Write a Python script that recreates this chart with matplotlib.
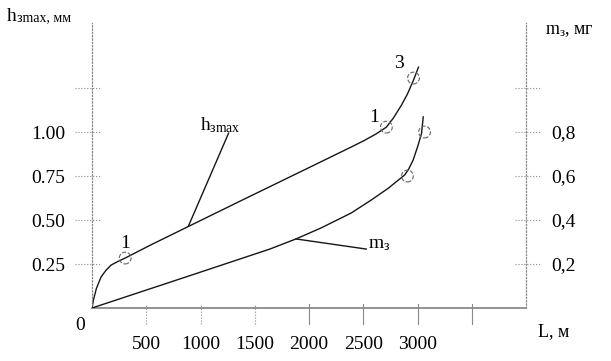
import matplotlib
matplotlib.use("Agg")
import matplotlib.pyplot as plt

plt.rcParams['font.family'] = ['Liberation Serif', 'DejaVu Serif']
plt.rcParams['mathtext.fontset'] = 'custom'
plt.rcParams['mathtext.rm'] = 'Liberation Serif'
plt.rcParams['mathtext.it'] = 'Liberation Serif'

# h_зmax curve, mm
L_h = [0, 15, 40, 83, 130, 176, 240, 306, 540, 900, 1400, 1900, 2389,
       2509, 2620, 2713, 2778, 2852, 2907, 2963, 3009]
h_vals = [0, 0.05, 0.11, 0.176, 0.215, 0.244, 0.265, 0.284, 0.358, 0.467, 0.618, 0.768, 0.915,
          0.952, 0.990, 1.028, 1.080, 1.153, 1.216, 1.295, 1.369]
# m_з curve, mg
L_m = [0, 889, 1639, 1880, 2111, 2389, 2574, 2729, 2882, 2919, 2960, 3006, 3037, 3053]
m_vals = [0, 0.145, 0.268, 0.314, 0.364, 0.432, 0.491, 0.544, 0.605, 0.632, 0.673, 0.741, 0.794, 0.869]

# measured points (circles)
L_h_pts = [306, 2713, 2963]
h_pts = [0.284, 1.028, 1.307]
L_m_pts = [2907, 3065]
m_pts = [0.6, 0.8]

x_ticks = [500, 1000, 1500, 2000, 2500, 3000, 3500]
x_labels = ['500', '1000', '1500', '2000', '2500', '3000', '']
h_ticks = [0.25, 0.5, 0.75, 1.0, 1.25]
h_labels = ['0.25', '0.50', '0.75', '1.00', '']
m_ticks = [0.2, 0.4, 0.6, 0.8, 1.0]
m_labels = ['0,2', '0,4', '0,6', '0,8', '']

line_c = '#161616'
axis_c = '#8a8a8a'

fig = plt.figure(figsize=(6.11, 3.61), dpi=100)
ax = fig.add_axes([92 / 611, 53 / 361, 434 / 611, 285 / 361])
ax2 = ax.twinx()

ax.set_xlim(0, 4000)
ax.set_ylim(0, 1.62)
ax2.set_ylim(0, 1.62 * 0.8)

for a in (ax, ax2):
    for s in a.spines.values():
        s.set_visible(False)
ax.spines['left'].set_visible(True)
ax.spines['left'].set_linestyle(':')
ax.spines['left'].set_color(axis_c)
ax.spines['left'].set_linewidth(0.9)
ax.spines['bottom'].set_visible(True)
ax.spines['bottom'].set_color(axis_c)
ax.spines['bottom'].set_linewidth(1.3)
ax2.spines['right'].set_visible(True)
ax2.spines['right'].set_linestyle(':')
ax2.spines['right'].set_color(axis_c)
ax2.spines['right'].set_linewidth(0.9)

# curves
ax.plot(L_h, h_vals, color=line_c, lw=1.0)
ax2.plot(L_m, m_vals, color=line_c, lw=1.0)
ax.scatter(L_h_pts, h_pts, s=72, facecolors='none', edgecolors='#666666',
           linestyles='--', linewidths=0.8, zorder=3)
ax2.scatter(L_m_pts, m_pts, s=72, facecolors='none', edgecolors='#666666',
            linestyles='--', linewidths=0.8, zorder=3)

# ticks
ax.set_xticks(x_ticks, x_labels)
ax.set_yticks(h_ticks, h_labels)
ax2.set_yticks(m_ticks, m_labels)
ax.tick_params(axis='x', length=0, pad=20, labelsize=14)
ax.tick_params(axis='y', length=0, pad=19, labelsize=14)
ax2.tick_params(axis='y', length=0, pad=18, labelsize=14)

for v in x_ticks:
    ax.plot([v, v], [-0.056, 0.014], transform=ax.get_xaxis_transform(),
            color=axis_c, lw=0.8, ls=':' if v < 2000 else '-', clip_on=False)
for v in h_ticks:
    ax.plot([-0.039, 0.018], [v, v], transform=ax.get_yaxis_transform(),
            color=axis_c, lw=0.8, ls=':', clip_on=False)
for v in m_ticks:
    ax2.plot([0.975, 1.035], [v, v], transform=ax2.get_yaxis_transform(),
             color=axis_c, lw=0.8, ls=':', clip_on=False)

# axis labels
ax.annotate('0', xy=(0, 0), xycoords='axes fraction', xytext=(-12, -17),
            textcoords='offset pixels', ha='center', va='center', fontsize=14)
ax.annotate('L, м', xy=(1, 0), xycoords='axes fraction', xytext=(28, -24),
            textcoords='offset pixels', ha='center', va='center', fontsize=13)
ax.annotate('h', xy=(0, 1), xycoords='axes fraction', xytext=(-85, 2),
            textcoords='offset pixels', ha='left', va='baseline', fontsize=14)
ax.annotate('зmax, мм', xy=(0, 1), xycoords='axes fraction', xytext=(-75, 2),
            textcoords='offset pixels', ha='left', va='baseline', fontsize=10)
ax.annotate('m$_з$, мг', xy=(1, 1), xycoords='axes fraction', xytext=(19, -11),
            textcoords='offset pixels', ha='left', va='baseline', fontsize=13)

# curve labels with leaders
ax.plot([889, 1259], [0.466, 0.994], color=line_c, lw=1.0)
ax.text(1000, 1.011, 'h$_{\\mathregular{зmax}}$', fontsize=14, ha='left', va='baseline')
ax2.plot([1880, 2528], [0.314, 0.268], color=line_c, lw=1.0)
ax2.text(2546, 0.273, 'm$_з$', fontsize=14, ha='left', va='baseline')

# point numbers
ax.text(306, 0.369, '1', fontsize=14, ha='center', va='center')
ax.text(2602, 1.085, '1', fontsize=14, ha='center', va='center')
ax.text(2833, 1.392, '3', fontsize=14, ha='center', va='center')

fig.savefig('out.png', dpi=100)
